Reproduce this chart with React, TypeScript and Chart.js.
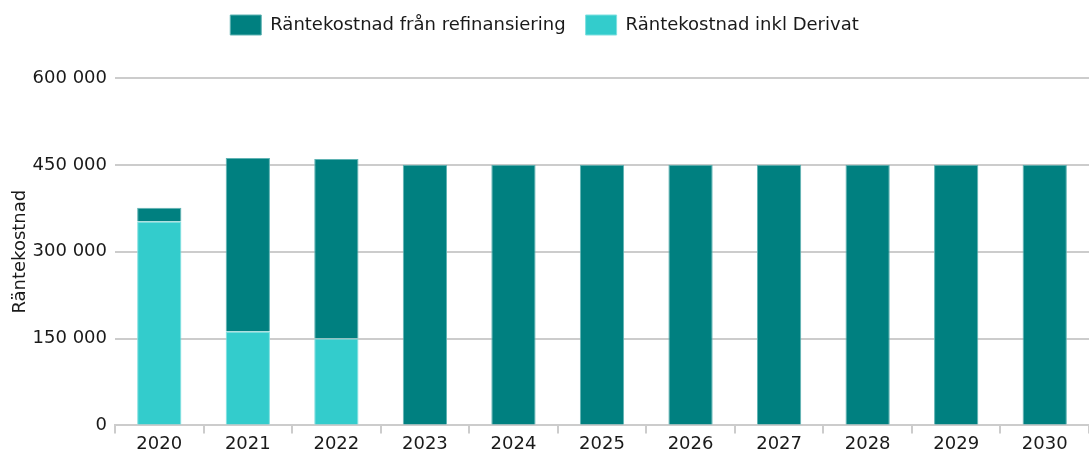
import React, { useEffect, useRef } from "react";
import { Chart, registerables } from "chart.js";

Chart.register(...registerables);

const categories = ["2020", "2021", "2022", "2023", "2024", "2025", "2026", "2027", "2028", "2029", "2030"];
const derivatValues = [352000, 162000, 150000, 0, 0, 0, 0, 0, 0, 0, 0];
const refinansValues = [24000, 300000, 310000, 450000, 450000, 450000, 450000, 450000, 450000, 450000, 450000];
const yTicks = [0, 150000, 300000, 450000, 600000];

const fmt = (v: number) => String(Math.round(v)).replace(/\B(?=(\d{3})+(?!\d))/g, " ");

const legendSpacer = {
  id: "legendSpacer",
  beforeInit(chart: any) {
    const orig = chart.legend.fit;
    chart.legend.fit = function () {
      orig.call(this);
      this.height += 33;
    };
  },
};

export default function App() {
  const ref = useRef<HTMLCanvasElement | null>(null);
  useEffect(() => {
    document.body.style.margin = "0";
    const font = { family: "DejaVu Sans", size: 18 };
    const chart = new Chart(ref.current!, {
      type: "bar",
      data: {
        labels: categories,
        datasets: [
          {
            label: "Räntekostnad inkl Derivat",
            data: derivatValues,
            backgroundColor: "#33cccc",
            borderColor: "#7fe0e0",
            borderWidth: 1,
            barPercentage: 0.5,
            categoryPercentage: 1,
          },
          {
            label: "Räntekostnad från refinansiering",
            data: refinansValues,
            backgroundColor: "#008080",
            borderColor: "#5fb3b3",
            borderWidth: 1,
            barPercentage: 0.5,
            categoryPercentage: 1,
          },
        ],
      },
      plugins: [legendSpacer],
      options: {
        animation: false,
        responsive: true,
        maintainAspectRatio: false,
        layout: { padding: { top: -5, right: 0, left: 0, bottom: 0 } },
        plugins: {
          legend: {
            reverse: true,
            labels: {
              boxWidth: 31,
              boxHeight: 20,
              font,
              color: "#1a1a1a",
              padding: 20,
            },
          },
          tooltip: { enabled: false },
        },
        scales: {
          x: {
            stacked: true,
            grid: { drawOnChartArea: false, drawTicks: true, tickLength: 8, color: "#cccccc", lineWidth: 2 },
            border: { display: true, color: "#cccccc", width: 2 },
            ticks: { font, color: "#1a1a1a", padding: 0 },
          },
          y: {
            stacked: true,
            min: 0,
            max: 600000,
            afterBuildTicks: (axis: any) => {
              axis.ticks = yTicks.map((v) => ({ value: v }));
            },
            afterFit: (axis: any) => {
              axis.width = 115;
            },
            grid: { drawTicks: false, color: "#cccccc", lineWidth: 2 },
            border: { display: false },
            ticks: { font, color: "#1a1a1a", padding: 8, callback: (v: any) => fmt(Number(v)) },
            title: { display: true, text: "Räntekostnad", font, color: "#1a1a1a", padding: { top: 10, bottom: 0 } },
          },
        },
      },
    });
    return () => chart.destroy();
  }, []);
  return (
    <div style={{ width: 1089, height: 455, position: "relative" }}>
      <canvas ref={ref} />
    </div>
  );
}
